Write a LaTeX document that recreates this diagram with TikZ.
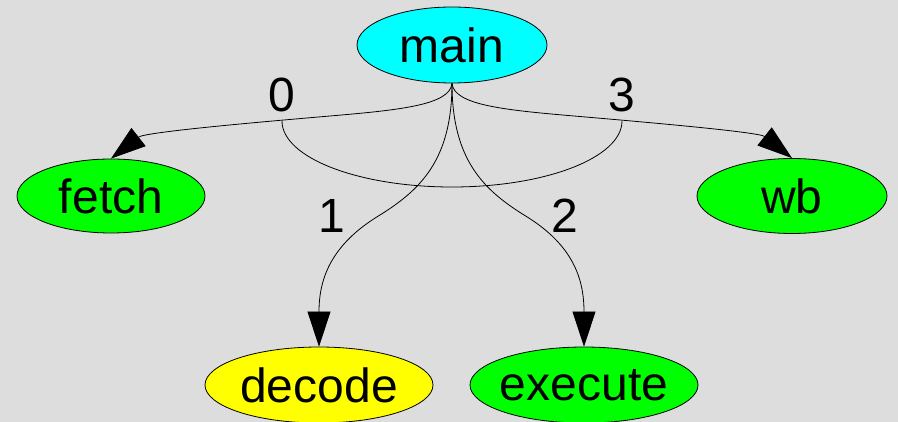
\documentclass[tikz,border=0pt]{standalone}
\usepackage{fontspec}
\setmainfont{Liberation Sans}
\usetikzlibrary{shapes.geometric,arrows.meta}
\definecolor{bg}{RGB}{221,221,221}
\definecolor{ncyan}{RGB}{0,255,255}
\definecolor{ngreen}{RGB}{0,255,0}
\definecolor{nyellow}{RGB}{255,255,0}
\begin{document}
\begin{tikzpicture}[x=1pt,y=-1pt,
  state/.style={ellipse,draw=black,line width=0.8pt,inner ysep=0pt,inner xsep=-30pt,
                font=\fontsize{48}{52}\selectfont},
  lbl/.style={inner sep=0pt,font=\fontsize{48}{52}\selectfont},
  edge/.style={draw=black,line width=0.8pt,-{Triangle[length=35pt,width=23pt]}},
  group/.style={draw=black,line width=0.8pt}]
% canvas
\fill[bg] (0,0) rectangle (898,422);
\useasboundingbox (0,0) rectangle (898,422);

% nodes
\node[state,fill=ncyan,minimum width=190pt,minimum height=76pt] (main) at (452,45) {main};
\node[state,fill=ngreen,minimum width=188pt,minimum height=74pt] (fetch) at (111,196) {fetch};
\node[state,fill=ngreen,minimum width=190pt,minimum height=75pt] (wb) at (792,196) {wb};
\node[state,fill=nyellow,minimum width=228pt,minimum height=76pt] (decode) at (319,385) {decode};
\node[state,fill=ngreen,minimum width=228pt,minimum height=76pt] (execute) at (584,385) {execute};

% edge labels
\node[lbl] (l0) at (282,95) {0};
\node[lbl] (l1) at (332,216) {1};
\node[lbl] (l2) at (565,216) {2};
\node[lbl] (l3) at (622,95) {3};

% points where the outer edges pass below their labels
\coordinate (a0) at (282,121);
\coordinate (a3) at (622,121);
\coordinate (s1) at (380,215);
\coordinate (s2) at (524,215);

% edges
\draw[edge] (main.south) .. controls (450,105) and (400,110) .. (330,116)
  .. controls (260,122) and (145,132) .. (fetch.north);
\draw[edge] (main.south) .. controls (454,105) and (504,110) .. (574,116)
  .. controls (644,122) and (759,132) .. (wb.north);
\draw[edge] (main.south) .. controls (452,160) and (420,190) .. (s1)
  .. controls (330,245) and (319,280) .. (decode.north);
\draw[edge] (main.south) .. controls (452,160) and (484,190) .. (s2)
  .. controls (574,245) and (584,280) .. (execute.north);

% arc grouping the edges
\draw[group] (a0) .. controls (282,157.5) and (358,187) .. (452,187)
  .. controls (546,187) and (622,157.5) .. (a3);
\end{tikzpicture}
\end{document}
